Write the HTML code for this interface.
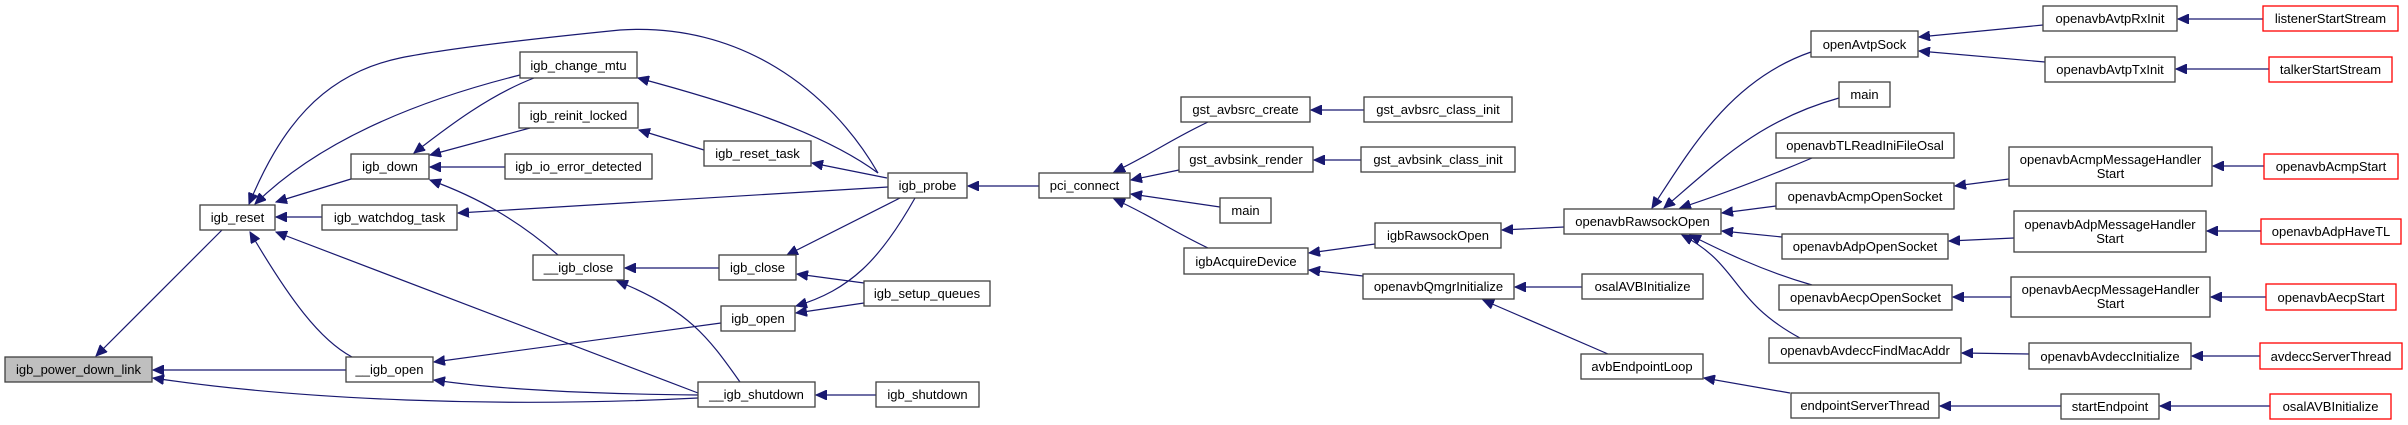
<!DOCTYPE html>
<html><head><meta charset="utf-8"><style>
html,body{margin:0;padding:0;background:#fff;}
svg{display:block;}
text{font-family:"Liberation Sans",sans-serif;font-size:13px;fill:#000;}
</style></head><body>
<svg width="2408" height="425" viewBox="0 0 2408 425" xmlns="http://www.w3.org/2000/svg">
<defs>
<marker id="a" markerUnits="userSpaceOnUse" markerWidth="12" markerHeight="10" refX="11" refY="5" orient="auto">
<polygon points="0,0 11,5 0,10" fill="#191970" stroke="#191970"/>
</marker>
</defs>
<g fill="none" stroke="#191970" stroke-width="1.2" marker-end="url(#a)">
<path d="M222,230 L96,356"/>
<path d="M346,370 L153,370"/>
<path d="M698,398 C500,408 300,400 153,378"/>
<path d="M520,75 C420,100 320,140 255,204"/>
<path d="M878,173 C830,90 740,22 620,30 C520,40 440,50 400,58 C320,75 280,130 249,204"/>
<path d="M351,179 L276,202"/>
<path d="M322,217 L276,217"/>
<path d="M352,357 C320,340 290,300 250,232"/>
<path d="M698,393 L276,232"/>
<path d="M534,78 C490,95 450,125 414,153"/>
<path d="M530,128 L430,155"/>
<path d="M505,167 L430,167"/>
<path d="M558,255 C520,222 480,198 430,180"/>
<path d="M888,187 L458,213"/>
<path d="M878,173 C820,130 720,100 638,78"/>
<path d="M704,150 L639,130"/>
<path d="M887,178 L812,163"/>
<path d="M719,268 L625,268"/>
<path d="M740,382 C710,340 690,310 617,281"/>
<path d="M721,323 L434,362"/>
<path d="M698,395 C600,394 500,390 434,380"/>
<path d="M900,198 L787,255"/>
<path d="M864,283 L797,274"/>
<path d="M915,198 C880,260 850,290 796,306"/>
<path d="M864,303 L796,313"/>
<path d="M876,395 L816,395"/>
<path d="M1039,186 L968,186"/>
<path d="M1208,122 C1170,140 1150,155 1114,172"/>
<path d="M1179,170 L1131,180"/>
<path d="M1220,207 L1131,194"/>
<path d="M1208,248 C1170,230 1150,215 1114,199"/>
<path d="M1364,110 L1311,110"/>
<path d="M1361,160 L1314,160"/>
<path d="M1375,244 L1309,253"/>
<path d="M1363,276 L1309,270"/>
<path d="M1564,227 L1502,230"/>
<path d="M1582,287 L1515,287"/>
<path d="M1608,354 L1483,300"/>
<path d="M1790,393 L1704,378"/>
<path d="M2061,406 L1940,406"/>
<path d="M2270,406 L2160,406"/>
<path d="M1811,52 C1730,80 1690,150 1652,208"/>
<path d="M1839,98 C1760,120 1720,160 1664,208"/>
<path d="M1812,158 C1760,180 1720,195 1680,208"/>
<path d="M1776,206 L1722,213"/>
<path d="M1782,237 L1722,231"/>
<path d="M1812,285 C1760,270 1720,250 1690,235"/>
<path d="M1800,338 C1730,300 1740,265 1682,235"/>
<path d="M2043,25 L1919,37"/>
<path d="M2045,62 L1919,51"/>
<path d="M2263,19 L2178,19"/>
<path d="M2269,69 L2176,69"/>
<path d="M2009,179 L1955,186"/>
<path d="M2014,238 L1949,241"/>
<path d="M2011,297 L1953,297"/>
<path d="M2029,354 L1962,353"/>
<path d="M2264,166 L2213,166"/>
<path d="M2261,231 L2207,231"/>
<path d="M2266,297 L2211,297"/>
<path d="M2260,356 L2192,356"/>
</g>
<g stroke-width="1.3">
<rect x="5" y="357" width="147" height="25" fill="#bfbfbf" stroke="#404040"/>
<g fill="#fff" stroke="#404040">
<rect x="200" y="205" width="75" height="25"/>
<rect x="351" y="154" width="78" height="25"/>
<rect x="322" y="205" width="135" height="25"/>
<rect x="520" y="52" width="117" height="26"/>
<rect x="519" y="103" width="119" height="25"/>
<rect x="505" y="154" width="147" height="25"/>
<rect x="533" y="255" width="91" height="25"/>
<rect x="346" y="357" width="87" height="25"/>
<rect x="704" y="141" width="107" height="25"/>
<rect x="888" y="173" width="79" height="25"/>
<rect x="719" y="255" width="77" height="25"/>
<rect x="864" y="281" width="126" height="25"/>
<rect x="721" y="306" width="74" height="25"/>
<rect x="698" y="382" width="117" height="25"/>
<rect x="876" y="382" width="103" height="25"/>
<rect x="1039" y="173" width="91" height="25"/>
<rect x="1181" y="97" width="129" height="25"/>
<rect x="1364" y="97" width="148" height="25"/>
<rect x="1179" y="147" width="134" height="25"/>
<rect x="1361" y="147" width="154" height="25"/>
<rect x="1220" y="198" width="51" height="25"/>
<rect x="1184" y="248" width="124" height="26"/>
<rect x="1375" y="223" width="126" height="25"/>
<rect x="1363" y="274" width="151" height="25"/>
<rect x="1564" y="209" width="157" height="25"/>
<rect x="1582" y="274" width="121" height="25"/>
<rect x="1581" y="354" width="122" height="25"/>
<rect x="1811" y="31" width="107" height="26"/>
<rect x="1839" y="82" width="51" height="25"/>
<rect x="1776" y="133" width="178" height="25"/>
<rect x="1776" y="183" width="178" height="26"/>
<rect x="1782" y="234" width="166" height="25"/>
<rect x="1779" y="285" width="173" height="25"/>
<rect x="1769" y="338" width="192" height="25"/>
<rect x="1791" y="393" width="148" height="25"/>
<rect x="2043" y="6" width="134" height="25"/>
<rect x="2045" y="57" width="130" height="25"/>
<rect x="2009" y="147" width="203" height="39"/>
<rect x="2014" y="211" width="192" height="41"/>
<rect x="2011" y="277" width="199" height="40"/>
<rect x="2029" y="343" width="162" height="26"/>
<rect x="2061" y="394" width="98" height="25"/>
</g>
<g fill="#fff" stroke="#ff0000">
<rect x="2263" y="6" width="135" height="25"/>
<rect x="2269" y="57" width="123" height="25"/>
<rect x="2264" y="154" width="134" height="25"/>
<rect x="2261" y="219" width="140" height="25"/>
<rect x="2266" y="284" width="130" height="26"/>
<rect x="2260" y="343" width="142" height="26"/>
<rect x="2270" y="394" width="121" height="25"/>
</g>
</g>
<g text-anchor="middle">
<text x="78.5" y="374">igb_power_down_link</text>
<text x="237.5" y="222">igb_reset</text>
<text x="390" y="171">igb_down</text>
<text x="389.5" y="222">igb_watchdog_task</text>
<text x="578.5" y="70">igb_change_mtu</text>
<text x="578.5" y="120">igb_reinit_locked</text>
<text x="578.5" y="171">igb_io_error_detected</text>
<text x="578.5" y="272">__igb_close</text>
<text x="389.5" y="374">__igb_open</text>
<text x="757.5" y="158">igb_reset_task</text>
<text x="927.5" y="190">igb_probe</text>
<text x="757.5" y="272">igb_close</text>
<text x="927" y="298">igb_setup_queues</text>
<text x="758" y="323">igb_open</text>
<text x="756.5" y="399">__igb_shutdown</text>
<text x="927.5" y="399">igb_shutdown</text>
<text x="1084.5" y="190">pci_connect</text>
<text x="1245.5" y="114">gst_avbsrc_create</text>
<text x="1438" y="114">gst_avbsrc_class_init</text>
<text x="1246" y="164">gst_avbsink_render</text>
<text x="1438" y="164">gst_avbsink_class_init</text>
<text x="1245.5" y="215">main</text>
<text x="1246" y="266">igbAcquireDevice</text>
<text x="1438" y="240">igbRawsockOpen</text>
<text x="1438.5" y="291">openavbQmgrInitialize</text>
<text x="1642.5" y="226">openavbRawsockOpen</text>
<text x="1642.5" y="291">osalAVBInitialize</text>
<text x="1642" y="371">avbEndpointLoop</text>
<text x="1864.5" y="49">openAvtpSock</text>
<text x="1864.5" y="99">main</text>
<text x="1865" y="150">openavbTLReadIniFileOsal</text>
<text x="1865" y="201">openavbAcmpOpenSocket</text>
<text x="1865" y="251">openavbAdpOpenSocket</text>
<text x="1865.5" y="302">openavbAecpOpenSocket</text>
<text x="1865" y="355">openavbAvdeccFindMacAddr</text>
<text x="1865" y="410">endpointServerThread</text>
<text x="2110" y="23">openavbAvtpRxInit</text>
<text x="2110" y="74">openavbAvtpTxInit</text>
<text x="2110.5" y="164">openavbAcmpMessageHandler</text>
<text x="2110.5" y="178">Start</text>
<text x="2110" y="229">openavbAdpMessageHandler</text>
<text x="2110" y="243">Start</text>
<text x="2110.5" y="294">openavbAecpMessageHandler</text>
<text x="2110.5" y="308">Start</text>
<text x="2110" y="361">openavbAvdeccInitialize</text>
<text x="2110" y="411">startEndpoint</text>
<text x="2330.5" y="23">listenerStartStream</text>
<text x="2330.5" y="74">talkerStartStream</text>
<text x="2331" y="171">openavbAcmpStart</text>
<text x="2331" y="236">openavbAdpHaveTL</text>
<text x="2331" y="302">openavbAecpStart</text>
<text x="2331" y="361">avdeccServerThread</text>
<text x="2330.5" y="411">osalAVBInitialize</text>
</g>
</svg>
</body></html>
